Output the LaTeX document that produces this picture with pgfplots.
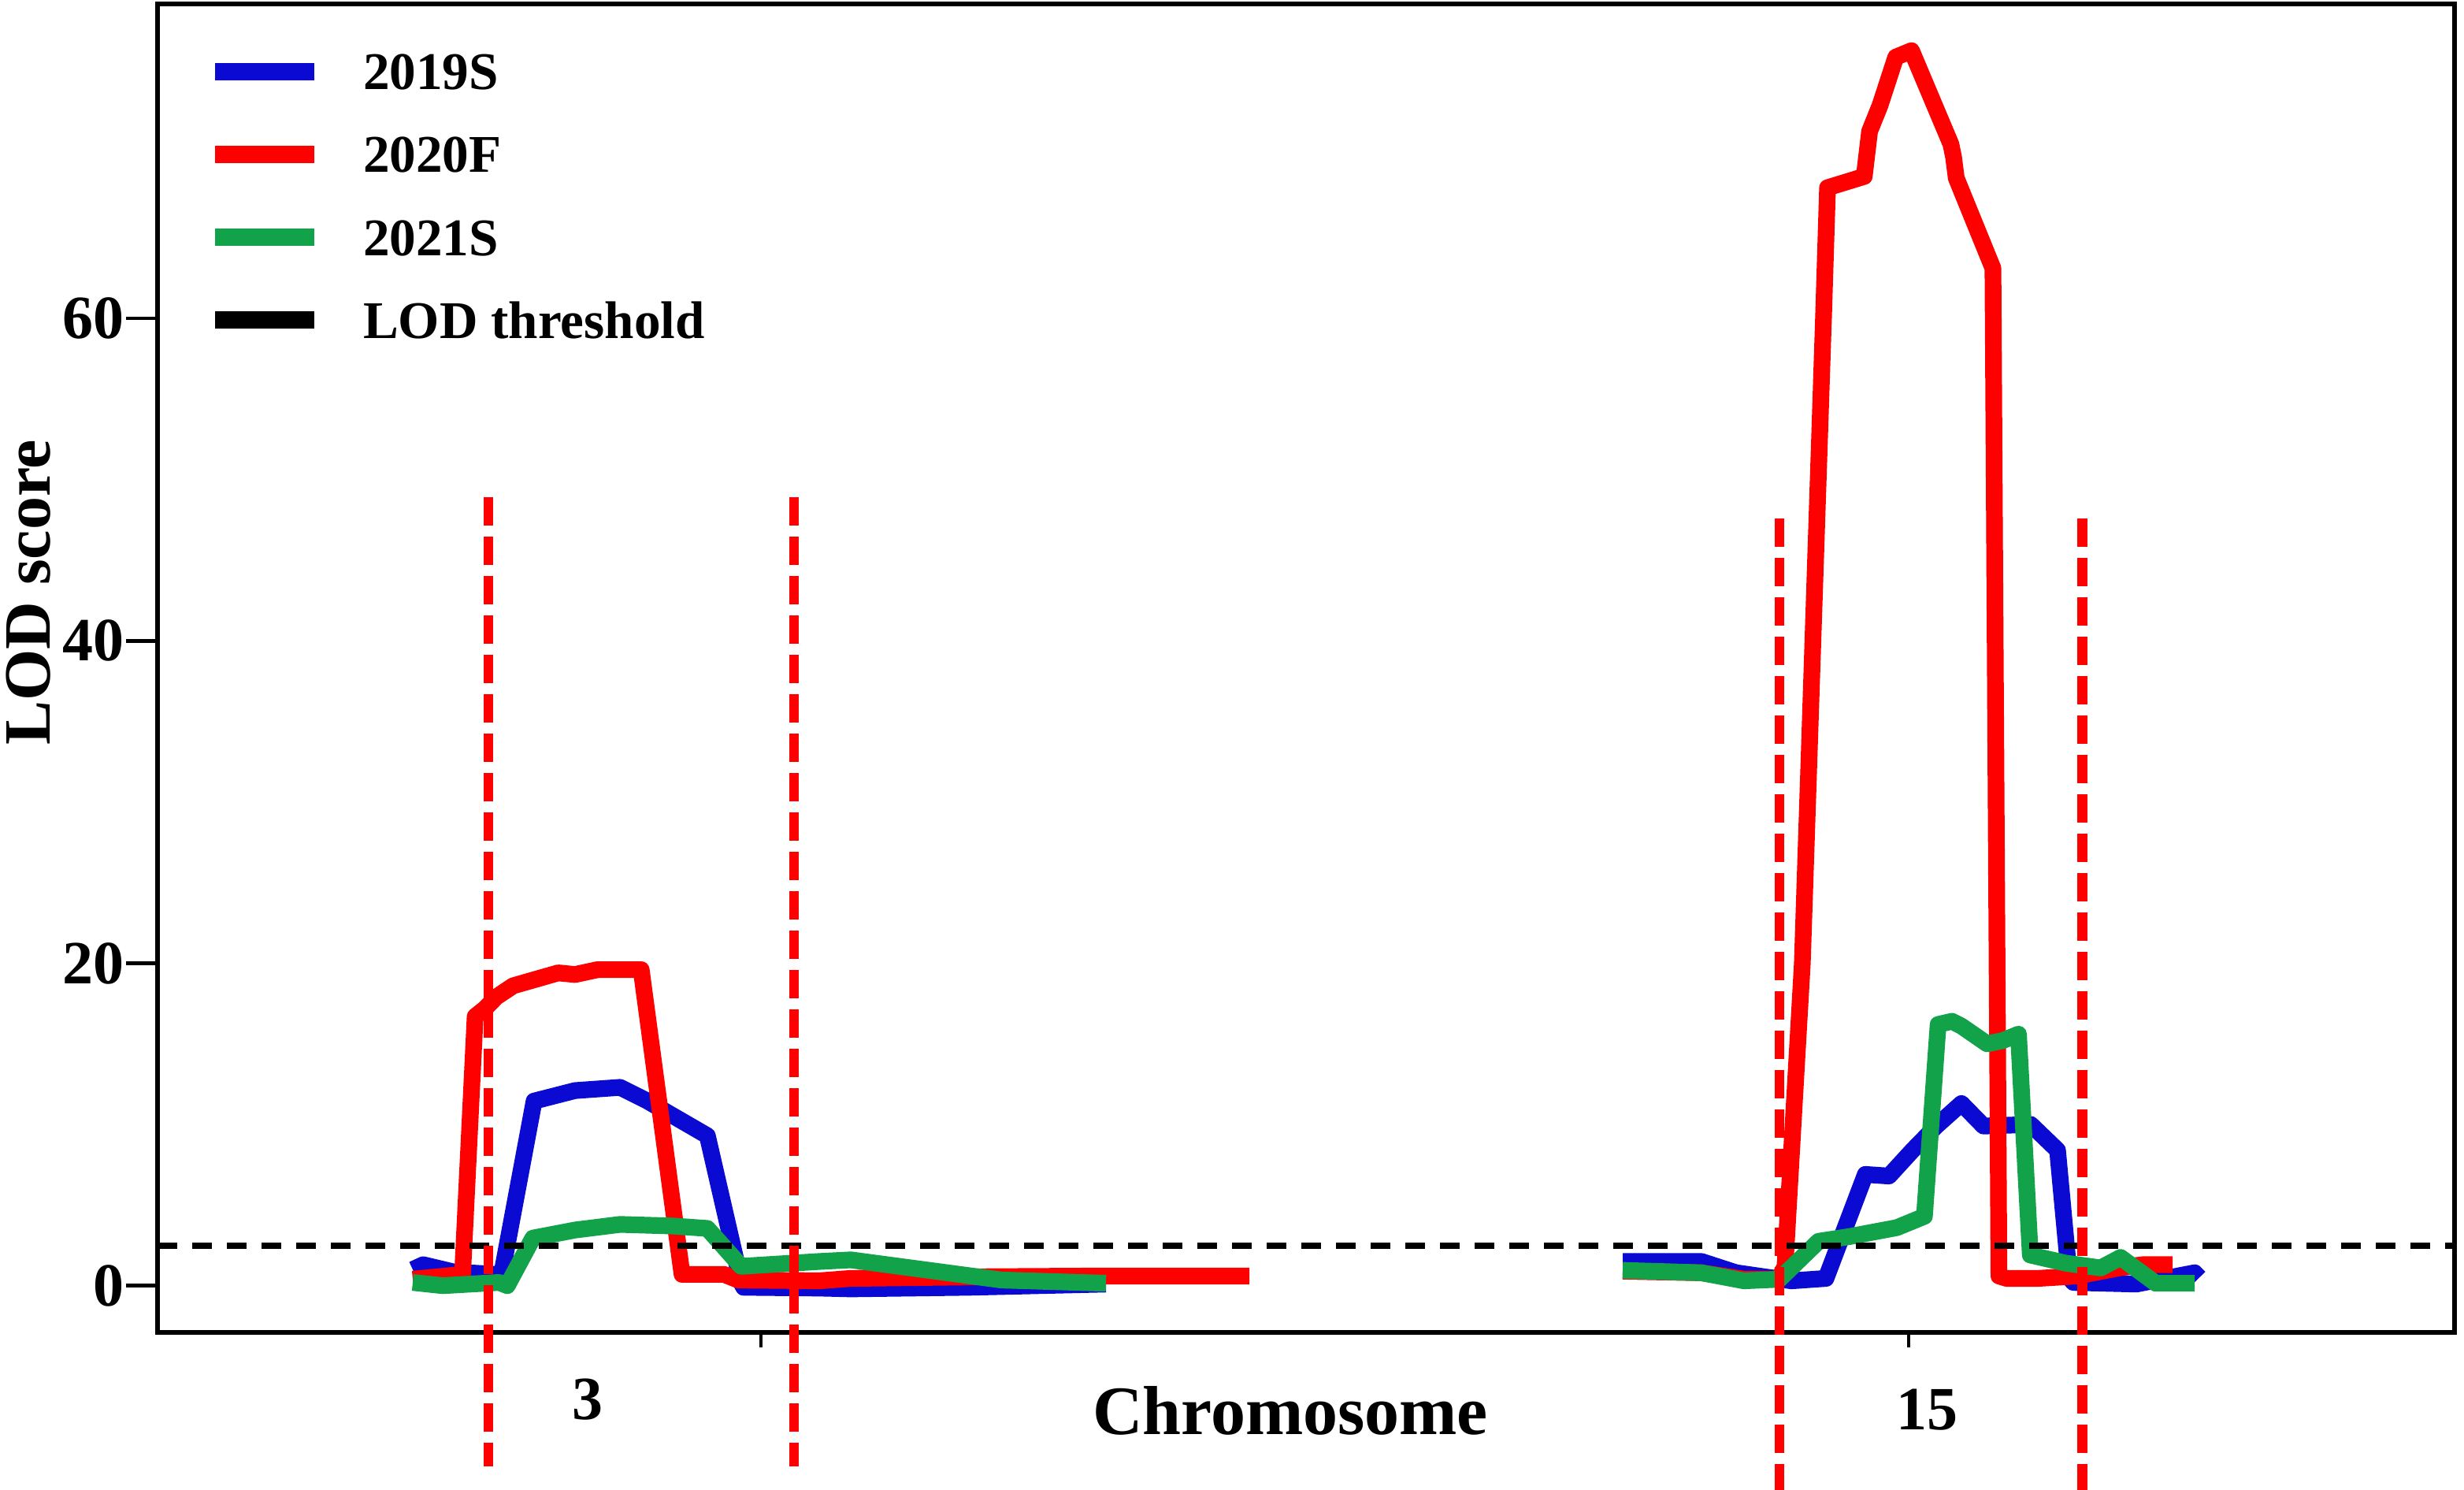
\documentclass[border=0pt]{standalone}
\usepackage{fontspec}
\setmainfont{Liberation Serif}
\usepackage{pgfplots}
\pgfplotsset{compat=1.18}
\definecolor{cblue}{RGB}{10,10,210}
\definecolor{cred}{RGB}{255,0,0}
\definecolor{cgreen}{RGB}{18,163,74}
\begin{document}
\begin{tikzpicture}
\begin{axis}[
  name=ax,
  scale only axis,
  width=729pt, height=421.5pt,
  xmin=100, xmax=1558,
  ymin=-2.9, ymax=79.5,
  clip=false,
  axis line style={line width=1.5pt},
  tick pos=left,
  ytick={0,20,40,60},
  ytick align=outside,
  xtick align=inside,
  major tick length=10pt,
  minor tick length=6.5pt,
  xtick=\empty,
  minor xtick={262,268.6,322.1,394.6,450.2,543.6,704.1,1028.7,1201.6,1220.2,1232.7,1247.6,1260,1266.3,1268.8,1271.2,1281.2,1291.9,1308.6,1332.9,1345.9,1395.6},
  extra x ticks={483,1211.5},
  extra x tick labels={},
  extra x tick style={xtick align=outside, major tick length=4.7pt},
  every tick/.style={black, line width=1.2pt},
  /pgf/number format/assume math mode=true,
  yticklabel style={font=\fontsize{19.5}{22}\selectfont\bfseries, inner xsep=0.5pt},
  ylabel={LOD score},
  every axis y label/.style={at={(axis description cs:-0.0562,0.557)}, rotate=90, anchor=center, inner sep=0pt, font=\fontsize{21}{24}\selectfont\bfseries},
  legend cell align=left,
  legend style={at={(axis description cs:0.0213,0.9628)}, anchor=north west, draw=none, fill=none,
    inner sep=0pt, outer sep=0pt, row sep=14.8pt,
    font=\fontsize{16.8}{19}\selectfont\bfseries,
    nodes={inner sep=0pt, outer sep=0pt, text height=11.5pt, text depth=0pt}},
  legend image code/.code={%
    \path[draw=none] (0pt,0pt) -- (47pt,0pt);
    \draw[#1, solid, line width=5.5pt, line cap=butt] (0pt,0pt) -- (31.4pt,0pt);},
  unbounded coords=jump,
]
% 2019S
\addplot[cblue, line width=5.3pt, line join=round] coordinates {
 (262,1.0) (268.6,1.3) (288,0.85) (315,0.7) (318.6,0.8) (339,11.45) (365,12.1) (393.6,12.3) (411,11.45) (449,9.3) (470.4,0.2) (472,-0.1) (520,-0.15) (540,-0.2) (615,-0.1) (702,0.1)
 (800,nan)
 (1030,1.5) (1080,1.5) (1102,0.8) (1127,0.45) (1137,0.3) (1159,0.45) (1184,6.9) (1199,6.8) (1214,8.4) (1229,9.9) (1245,11.3) (1259,9.9) (1289,10.0) (1306,8.4) (1313.5,0.5) (1316,0.2) (1356,0.1) (1393,0.8) (1396,0.5)
};
\addlegendentry{2019S}
% 2020F
\addplot[cred, line width=5.3pt, line join=round] coordinates {
 (262,0.4) (293.6,0.7) (301.6,16.7) (308,17.2) (315,17.9) (325.7,18.6) (340,19.0) (354.3,19.4) (365,19.3) (379.3,19.6) (407,19.6) (432.9,0.7) (459.6,0.7) (468.6,0.35) (520,0.3) (540,0.45) (620,0.55) (702,0.6) (793,0.6)
 (900,nan)
 (1030,0.9) (1080,0.8) (1107,0.4) (1129,0.4) (1133,1.2) (1144,20) (1157.5,60.2) (1160,68.1) (1183.3,68.8) (1186.7,71.6) (1193.3,73.2) (1203.3,76.2) (1213.3,76.6) (1238.3,70.8) (1240,70.0) (1241.7,68.7) (1265,63.1) (1268.8,0.6) (1273.7,0.45) (1293.6,0.45) (1318.5,0.6) (1345,1.1) (1360,1.3) (1379,1.3)
};
\addlegendentry{2020F}
% 2021S
\addplot[cgreen, line width=5.3pt, line join=round] coordinates {
 (262,0.2) (281,0.0) (316.8,0.2) (322,0.0) (338.2,2.95) (365,3.45) (393.6,3.8) (427.5,3.7) (449,3.55) (470.4,1.2) (520,1.5) (540,1.6) (635.7,0.35) (702,0.15)
 (800,nan)
 (1030,0.95) (1080,0.8) (1107,0.3) (1129.5,0.4) (1154.3,2.75) (1174.2,3.05) (1204,3.6) (1221.5,4.3) (1230.2,16.2) (1239,16.4) (1245,16.1) (1261.3,15.0) (1271.2,15.2) (1281.2,15.6) (1288.7,1.9) (1311,1.4) (1333.4,1.1) (1346,1.75) (1368.3,0.15) (1393,0.15)
};
\addlegendentry{2021S}
% threshold
\addplot[black, line width=2pt, dash pattern=on 6.25pt off 4.75pt] coordinates {(100,2.5) (1558,2.5)};
\addlegendentry{LOD threshold}
% interval lines
\addplot[forget plot, cred, line width=3.1pt, dash pattern=on 9pt off 3.5pt] coordinates {(310,48.9) (310,-11.2)};
\addplot[forget plot, cred, line width=3.1pt, dash pattern=on 9pt off 3.5pt] coordinates {(504,48.9) (504,-11.2)};
\addplot[forget plot, cred, line width=3.1pt, dash pattern=on 9pt off 3.5pt] coordinates {(1129.5,47.6) (1129.5,-13)};
\addplot[forget plot, cred, line width=3.1pt, dash pattern=on 9pt off 3.5pt] coordinates {(1321.7,47.6) (1321.7,-13)};
\node[font=\fontsize{19.5}{22}\selectfont\bfseries] at (axis cs:373,-7.06) {3};
\node[font=\fontsize{19.5}{22}\selectfont\bfseries] at (axis cs:1223,-7.71) {15};
\node[font=\fontsize{22}{26}\selectfont\bfseries] at (axis cs:819,-7.75) {Chromosome};
\end{axis}
\pgfresetboundingbox
\path[use as bounding box] ([xshift=-50pt,yshift=-49.75pt]ax.south west) rectangle ([xshift=3pt,yshift=1.25pt]ax.north east);
\end{tikzpicture}
\end{document}
